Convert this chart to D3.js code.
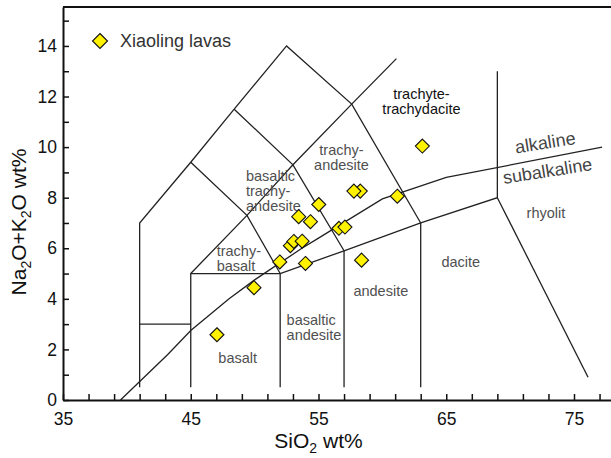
<!DOCTYPE html>
<html>
<head>
<meta charset="utf-8">
<script src="https://cdn.jsdelivr.net/npm/d3@7"></script>
<style>
  body { margin: 0; background: #fff; }
  svg { display: block; }
  text { font-family: "Liberation Sans", Arial, Helvetica, sans-serif; }
</style>
</head>
<body>
<svg id="chart" width="611" height="458"></svg>
<script>
// Xiaoling lavas: SiO2 and total alkali (Na2O+K2O), wt%
const sio2   = [47.05, 49.95, 51.97, 52.80, 53.07, 53.72, 53.98, 53.45, 54.37, 55.02, 56.60, 57.07, 58.27, 57.77, 58.37, 61.17, 63.13];
const alkali = [ 2.58,  4.44,  5.46,  6.10,  6.27,  6.28,  5.40,  7.25,  7.05,  7.73,  6.79,  6.84,  8.26,  8.26,  5.53,  8.06, 10.04];

// Axis ticks
const xTickValues = d3.range(35, 78, 2);
const xTickLabels = [35, 45, 55, 65, 75];
const yTickValues = d3.range(0, 16, 1);
const yTickLabels = [0, 2, 4, 6, 8, 10, 12, 14];

// TAS classification boundaries (SiO2, Na2O+K2O)
const fieldBoundaries = [
  [[41, 0.5], [41, 7], [45, 9.4], [48.4, 11.5], [52.5, 14], [57.6, 11.7], [63, 7]],
  [[41, 3], [45, 3]],
  [[45, 0.5], [45, 5], [52, 5], [57, 5.9], [63, 7], [69, 8], [69, 13]],
  [[52, 0.5], [52, 5]],
  [[57, 0.5], [57, 5.9]],
  [[63, 0.5], [63, 7]],
  [[45, 5], [49.4, 7.3], [53, 9.3], [57.6, 11.7], [61.1, 13.5]],
  [[45, 9.4], [49.4, 7.3], [52, 5]],
  [[48.4, 11.5], [53, 9.3], [57, 5.9]],
  [[69, 8], [76.1, 0.9]]
];
// Alkaline / subalkaline divide
const alkalineDivide = [[39.5, 0], [43.2, 1.8], [45, 2.75], [48, 4], [50, 4.75], [53.7, 6], [55, 6.4], [60, 7.95], [65, 8.8], [77.2, 10]];

// Rock field names, each line anchored at (SiO2, alkali)
const fieldNames = [
  { lines: ["trachyte-", "trachydacite"], at: [63.06, 11.90], anchor: "middle", dark: true },
  { lines: ["trachy-", "andesite"], at: [56.80, 9.69], anchor: "middle" },
  { lines: ["basaltic", "trachy-", "andesite"], at: [49.32, 8.67], anchor: "start" },
  { lines: ["trachy-", "basalt"], at: [47.03, 5.69], anchor: "start" },
  { lines: ["basalt"], at: [47.16, 1.47], anchor: "start" },
  { lines: ["basaltic", "andesite"], at: [52.50, 2.97], anchor: "start" },
  { lines: ["andesite"], at: [59.88, 4.11], anchor: "middle" },
  { lines: ["dacite"], at: [66.14, 5.27], anchor: "middle" },
  { lines: ["rhyolit"], at: [72.80, 7.18], anchor: "middle" }
];
const seriesNames = [
  { text: "alkaline", at: [70.46, 9.75] },
  { text: "subalkaline", at: [69.52, 8.54] }
];

const svg = d3.select("#chart");
const x = d3.scaleLinear().domain([35, 78]).range([63, 63 + 43 * 12.775]);
const y = d3.scaleLinear().domain([0, 15.54]).range([400, 7]);
const line = d3.line().x(d => x(d[0])).y(d => y(d[1]));

// boundaries
const gLines = svg.append("g").attr("fill", "none").attr("stroke", "#222").attr("stroke-width", 1.3).attr("stroke-linejoin", "miter");
gLines.selectAll("path.field").data(fieldBoundaries).join("path").attr("class", "field").attr("d", line);
gLines.append("path").datum(alkalineDivide).attr("d", line);

// field names
const gNames = svg.append("g").style("font-size", "14.5px");
fieldNames.forEach(f => {
  const t = gNames.append("text")
    .attr("text-anchor", f.anchor)
    .attr("fill", f.dark ? "#111" : "#505050");
  f.lines.forEach((s, i) => {
    t.append("tspan").attr("x", x(f.at[0])).attr("y", y(f.at[1]) + i * 15).text(s);
  });
});
seriesNames.forEach(s => {
  svg.append("text")
    .attr("transform", `translate(${x(s.at[0])},${y(s.at[1])}) rotate(-9)`)
    .attr("fill", "#444").style("font-size", "18px").text(s.text);
});

// samples
const diamond = "M0,-7L7,0L0,7L-7,0Z";
svg.append("g").selectAll("path").data(d3.range(sio2.length)).join("path")
  .attr("d", diamond)
  .attr("transform", i => `translate(${x(sio2[i])},${y(alkali[i])})`)
  .attr("fill", "#fff200").attr("stroke", "#111").attr("stroke-width", 1.1);

// axes
const xAxis = d3.axisBottom(x).tickValues(xTickValues).tickSizeInner(-6).tickSizeOuter(0).tickPadding(13)
  .tickFormat(d => xTickLabels.includes(d) ? d : "");
const yAxis = d3.axisLeft(y).tickValues(yTickValues).tickSizeInner(-6).tickSizeOuter(0).tickPadding(6)
  .tickFormat(d => yTickLabels.includes(d) ? d : "");

const gx = svg.append("g").attr("transform", `translate(0,${y(0)})`).call(xAxis);
const gy = svg.append("g").attr("transform", `translate(${x(35)},0)`).call(yAxis);
[gx, gy].forEach(g => {
  g.select(".domain").attr("stroke", "#111").attr("stroke-width", 2);
  g.selectAll(".tick line").attr("stroke", "#111").attr("stroke-width", 1.5);
  g.selectAll(".tick text").attr("fill", "#111").style("font-size", "17.5px")
    .style("font-family", '"Liberation Sans", Arial, Helvetica, sans-serif');
});
svg.append("line").attr("x1", x(35)).attr("x2", 611).attr("y1", 7).attr("y2", 7)
  .attr("stroke", "#111").attr("stroke-width", 2);

// axis titles
const xt = svg.append("text").attr("x", x(55)).attr("y", 448).attr("text-anchor", "middle")
  .attr("fill", "#111").style("font-size", "21px");
xt.append("tspan").text("SiO");
xt.append("tspan").attr("dy", 5).style("font-size", "14px").text("2");
xt.append("tspan").attr("dy", -5).text(" wt%");

const yt = svg.append("text").attr("transform", "translate(26,222) rotate(-90)").attr("text-anchor", "middle")
  .attr("fill", "#111").style("font-size", "21px");
yt.append("tspan").text("Na");
yt.append("tspan").attr("dy", 5).style("font-size", "14px").text("2");
yt.append("tspan").attr("dy", -5).text("O+K");
yt.append("tspan").attr("dy", 5).style("font-size", "14px").text("2");
yt.append("tspan").attr("dy", -5).text("O wt%");

// legend
const leg = svg.append("g").attr("transform", "translate(100,41)");
leg.append("path").attr("d", "M0,-7.5L7.5,0L0,7.5L-7.5,0Z").attr("fill", "#fff200").attr("stroke", "#111").attr("stroke-width", 1.1);
leg.append("text").attr("x", 20).attr("y", 5.5).attr("fill", "#333").style("font-size", "18px").text("Xiaoling lavas");
</script>
</body>
</html>
